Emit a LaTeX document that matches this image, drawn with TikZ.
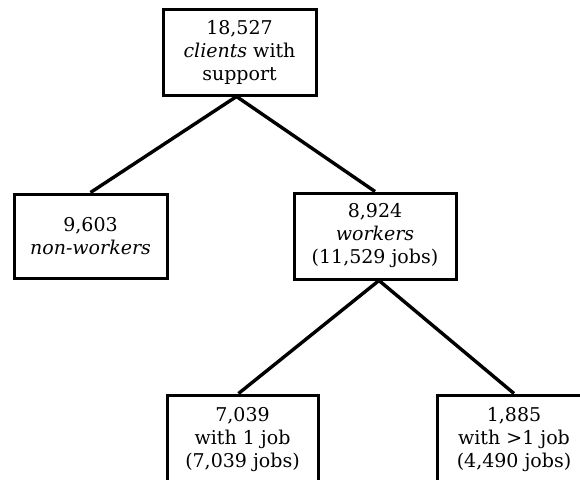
\documentclass[tikz,border=0pt]{standalone}
\usepackage{fontspec}
\setmainfont{DejaVu Serif}
\begin{document}
\begin{tikzpicture}[x=1pt,y=-1pt,
  box/.style={draw=black,line width=3pt,inner sep=0pt,align=center,
    font=\fontsize{19}{23}\selectfont},
  link/.style={draw=black,line width=3.4pt}]
\useasboundingbox (0,0) rectangle (580,479);
\clip (0,0) rectangle (580,479);
\node[box,minimum width=153pt,minimum height=86pt] (top) at (239.5,52)
  {18,527\\\textit{clients} with\\support};
\node[box,minimum width=153pt,minimum height=84pt] (nonw) at (90.5,236)
  {9,603\\\textit{non-workers}};
\node[box,minimum width=162pt,minimum height=86pt] (work) at (375,236)
  {8,924\\\textit{workers}\\(11,529 jobs)};
\node[box,minimum width=151pt,minimum height=90pt] (one) at (242.5,440)
  {7,039\\with 1 job\\(7,039 jobs)};
\node[box,minimum width=154pt,minimum height=90pt] (many) at (514,440)
  {1,885\\with >1 job\\(4,490 jobs)};
\draw[link] ([xshift=-3pt]top.south) -- (nonw.north);
\draw[link] ([xshift=-3pt]top.south) -- (work.north);
\draw[link] ([xshift=4pt]work.south) -- ([xshift=-4pt]one.north);
\draw[link] ([xshift=4pt]work.south) -- (many.north);
\end{tikzpicture}
\end{document}
